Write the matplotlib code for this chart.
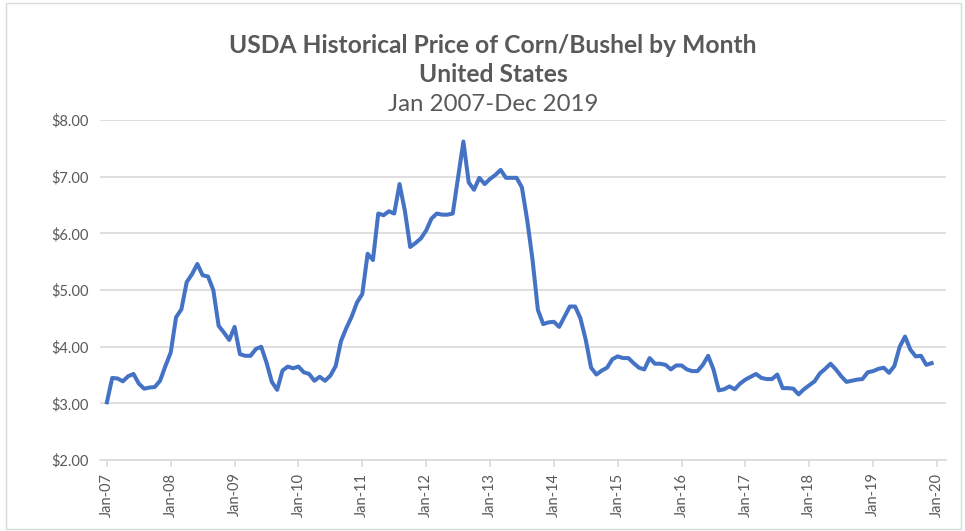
import matplotlib
matplotlib.use("Agg")
import matplotlib.pyplot as plt
import numpy as np

# Monthly corn price ($/bushel), Jan 2007 - Dec 2019
p2007 = [3.02, 3.45, 3.44, 3.39, 3.48, 3.52, 3.35, 3.26, 3.28, 3.29, 3.40, 3.66]
p2008 = [3.90, 4.52, 4.66, 5.14, 5.28, 5.46, 5.26, 5.24, 5.00, 4.37, 4.25, 4.12]
p2009 = [4.35, 3.87, 3.84, 3.84, 3.96, 4.00, 3.72, 3.38, 3.24, 3.58, 3.65, 3.62]
p2010 = [3.65, 3.55, 3.52, 3.40, 3.47, 3.40, 3.49, 3.66, 4.10, 4.33, 4.53, 4.78]
p2011 = [4.93, 5.64, 5.53, 6.35, 6.32, 6.39, 6.35, 6.87, 6.40, 5.76, 5.83, 5.91]
p2012 = [6.05, 6.26, 6.35, 6.33, 6.33, 6.35, 6.99, 7.62, 6.90, 6.77, 6.98, 6.87]
p2013 = [6.96, 7.03, 7.12, 6.98, 6.98, 6.98, 6.81, 6.23, 5.53, 4.65, 4.40, 4.43]
p2014 = [4.44, 4.35, 4.53, 4.71, 4.71, 4.50, 4.12, 3.63, 3.51, 3.58, 3.63, 3.78]
p2015 = [3.83, 3.80, 3.80, 3.71, 3.63, 3.60, 3.80, 3.70, 3.70, 3.68, 3.60, 3.67]
p2016 = [3.67, 3.60, 3.57, 3.57, 3.68, 3.84, 3.60, 3.23, 3.25, 3.30, 3.25, 3.35]
p2017 = [3.42, 3.47, 3.52, 3.45, 3.43, 3.43, 3.51, 3.27, 3.27, 3.26, 3.16, 3.25]
p2018 = [3.32, 3.39, 3.53, 3.61, 3.70, 3.60, 3.48, 3.38, 3.40, 3.42, 3.43, 3.55]
p2019 = [3.57, 3.61, 3.63, 3.54, 3.66, 4.00, 4.18, 3.95, 3.83, 3.84, 3.68, 3.71]

prices = (p2007 + p2008 + p2009 + p2010 + p2011 + p2012 + p2013 +
          p2014 + p2015 + p2016 + p2017 + p2018 + p2019)
x_tick_labels = ["Jan-07", "Jan-08", "Jan-09", "Jan-10", "Jan-11", "Jan-12", "Jan-13",
                 "Jan-14", "Jan-15", "Jan-16", "Jan-17", "Jan-18", "Jan-19", "Jan-20"]
y_ticks = [2, 3, 4, 5, 6, 7, 8]

plt.rcParams['font.family'] = ['Lato', 'DejaVu Sans']
txt = '#595959'

fig = plt.figure(figsize=(9.65, 5.31), dpi=100)
fig.patches.append(plt.Rectangle((0.006, 0.004), 0.99, 0.99, transform=fig.transFigure,
                                 fill=False, edgecolor='#D9D9D9', lw=1))
ax = fig.add_axes([0.1036, 0.1335, 0.8767, 0.6405])

months = np.arange(len(prices))
ax.plot(months, prices, color='#4472C4', lw=2.9, solid_joinstyle='round', zorder=3)

ax.set_ylim(2, 8)
ax.set_xlim(-1.3, 157.7)
ax.set_yticks(y_ticks)
ax.set_yticklabels([f"${v:.2f}" for v in y_ticks], color=txt, fontsize=10.5)
ax.set_xticks(np.arange(0, 12 * len(x_tick_labels), 12))
ax.set_xticklabels(x_tick_labels, rotation=90, color=txt, fontsize=10.5)

ax.grid(axis='y', color='#D9D9D9', lw=1.2)
ax.set_axisbelow(True)
for s in ['top', 'right', 'left']:
    ax.spines[s].set_visible(False)
ax.spines['bottom'].set_color('#D9D9D9')
ax.spines['bottom'].set_linewidth(1.2)
ax.tick_params(axis='y', length=0, pad=8)
ax.tick_params(axis='x', length=5, color='#D9D9D9', width=1.2, pad=4)

fig.text(0.511, 0.915, "USDA Historical Price of Corn/Bushel by Month", ha='center', va='center',
         fontsize=17.7, fontweight='bold', color=txt)
fig.text(0.511, 0.860, "United States", ha='center', va='center',
         fontsize=17.7, fontweight='bold', color=txt)
fig.text(0.511, 0.804, "Jan 2007-Dec 2019", ha='center', va='center',
         fontsize=17.3, color=txt)

fig.savefig("out.png", dpi=100)
